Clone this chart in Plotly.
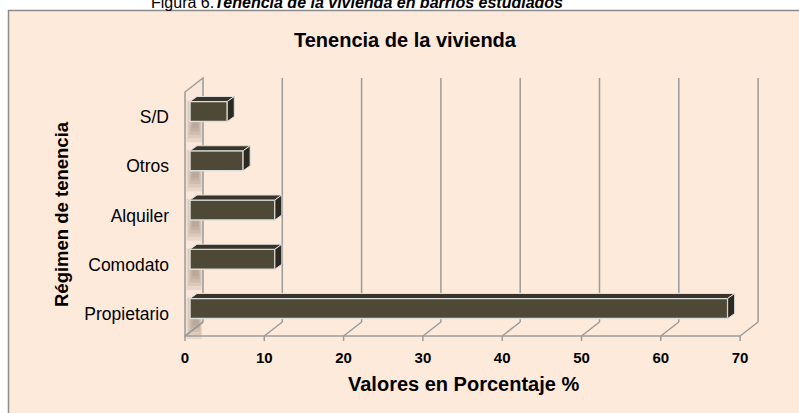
import plotly.graph_objects as go

# ---------------- data ----------------
categories = ["Propietario", "Comodato", "Alquiler", "Otros", "S/D"]
values = [67.8, 10.7, 10.7, 6.7, 4.7]
x_ticks = [0, 10, 20, 30, 40, 50, 60, 70]

title = "Tenencia de la vivienda"
x_title = "Valores en Porcentaje %"
y_title = "Régimen de tenencia"
caption = "Figura 6.<b><i>Tenencia de la vivienda en barrios estudiados</i></b>"

# ---------------- layout geometry (pixels) ----------------
W, H = 799, 413
L, R, T, B = 173, 766, 72, 344
X0PX, XPX = 185.0, 7.93      # pixel of value 0 on front plane, px per unit
Y0PX, YPX = 314.0, 49.25     # pixel of first category, px per category

xr = [(L - X0PX) / XPX, (R - X0PX) / XPX]
yr = [(Y0PX - B) / YPX, (Y0PX - T) / YPX]


def ux(px):
    return px / XPX


def uy(px):
    return px / YPX


def pxp(px):
    return (px - L) / (R - L)


def pyp(py):
    return (B - py) / (B - T)


DX, DY = ux(18), uy(14)          # depth of the 3D box
FLOOR = (Y0PX - 336) / YPX
TOPF = (Y0PX - 92) / YPX
TOPB = TOPF + DY
BAR_BASE = ux(5)
BAR_W = uy(20)
BAR_SHIFT = uy(5.5)
BDX, BDY = ux(7), uy(5)          # depth of each bar

GRID = "rgb(155,155,155)"
PEACH = "rgb(253,234,219)"
BAR_FACE = "rgb(78,72,54)"
BAR_TOP = "rgb(56,52,41)"
BAR_SIDE = "rgb(44,41,32)"
BAR_EDGE = "rgb(222,222,218)"

ypos = list(range(len(categories)))

fig = go.Figure()
fig.add_trace(go.Bar(
    x=values, y=ypos, base=BAR_BASE, orientation="h",
    width=BAR_W, offset=-BAR_W / 2 + BAR_SHIFT,
    marker=dict(color=BAR_FACE, line=dict(color=BAR_EDGE, width=1.5)),
    hoverinfo="skip",
))

shapes = []
# peach frame
shapes.append(dict(type="rect", xref="paper", yref="paper", layer="below",
                   x0=pxp(8.5), x1=pxp(830), y0=pyp(10.5), y1=pyp(440),
                   fillcolor=PEACH, line=dict(color="rgb(140,140,140)", width=1.5)))


def poly(pts):
    return "M " + " L ".join(f"{a},{b}" for a, b in pts) + " Z"


# side wall
shapes.append(dict(type="path", xref="x", yref="y", layer="below",
                   path=poly([(0, FLOOR), (0, TOPF), (DX, TOPB), (DX, FLOOR + DY)]),
                   fillcolor="rgb(251,231,217)", line=dict(color=GRID, width=1.5)))
# soft shadows on the wall behind each bar
for k in ypos:
    yb = k - BAR_W / 2 + BAR_SHIFT
    yt = yb + BAR_W
    layers = [(1.5, 0.42, 0.02), (3.0, 0.34, 0.0), (4.5, 0.27, -0.03),
              (6.0, 0.2, -0.06), (7.5, 0.14, -0.09)]
    for inset, below, above in layers:
        shapes.append(dict(type="rect", xref="x", yref="y", layer="below",
                           x0=ux(inset), x1=DX - ux(inset * 0.6),
                           y0=yb - below, y1=yt + above,
                           fillcolor="rgba(125,105,95,0.13)", line=dict(width=0)))
# back vertical gridlines
for v in x_ticks[1:]:
    shapes.append(dict(type="line", xref="x", yref="y", layer="below",
                       x0=v + DX, x1=v + DX, y0=FLOOR + DY, y1=TOPB,
                       line=dict(color=GRID, width=1.5)))
# floor diagonals and front ticks
for v in x_ticks:
    shapes.append(dict(type="line", xref="x", yref="y", layer="below",
                       x0=v, x1=v + DX, y0=FLOOR, y1=FLOOR + DY,
                       line=dict(color=GRID, width=1.5)))
    shapes.append(dict(type="line", xref="x", yref="y", layer="below",
                       x0=v, x1=v, y0=FLOOR, y1=FLOOR - uy(5),
                       line=dict(color=GRID, width=1.5)))
shapes.append(dict(type="line", xref="x", yref="y", layer="below",
                   x0=x_ticks[0], x1=x_ticks[-1], y0=FLOOR, y1=FLOOR,
                   line=dict(color=GRID, width=1.5)))

# 3D faces of the bars
for k, v in zip(ypos, values):
    yb = k - BAR_W / 2 + BAR_SHIFT
    yt = yb + BAR_W
    x0 = BAR_BASE
    x1 = BAR_BASE + v
    shapes.append(dict(type="path", xref="x", yref="y", layer="above",
                       path=poly([(x0, yt), (x1, yt), (x1 + BDX, yt + BDY), (x0 + BDX, yt + BDY)]),
                       fillcolor=BAR_TOP, line=dict(color=BAR_EDGE, width=1)))
    shapes.append(dict(type="path", xref="x", yref="y", layer="above",
                       path=poly([(x1, yb), (x1, yt), (x1 + BDX, yt + BDY), (x1 + BDX, yb + BDY)]),
                       fillcolor=BAR_SIDE, line=dict(color=BAR_EDGE, width=1)))

FONT = "Liberation Sans, Arial, sans-serif"
annotations = [
    dict(text=caption, xref="paper", yref="paper", x=pxp(357), y=pyp(2),
         xanchor="center", yanchor="middle", showarrow=False,
         font=dict(family=FONT, size=16, color="black")),
    dict(text="<b>" + title + "</b>", xref="paper", yref="paper", x=pxp(405), y=pyp(40),
         xanchor="center", yanchor="middle", showarrow=False,
         font=dict(family=FONT, size=20, color="black")),
    dict(text="<b>" + x_title + "</b>", xref="paper", yref="paper", x=pxp(463), y=pyp(384),
         xanchor="center", yanchor="middle", showarrow=False,
         font=dict(family=FONT, size=20, color="black")),
    dict(text="<b>" + y_title + "</b>", xref="paper", yref="paper", x=pxp(62), y=pyp(214),
         xanchor="center", yanchor="middle", showarrow=False, textangle=-90,
         font=dict(family=FONT, size=18.5, color="black")),
]

fig.update_layout(
    width=W, height=H,
    margin=dict(l=L, r=W - R, t=T, b=H - B, pad=0),
    paper_bgcolor="white", plot_bgcolor="rgba(0,0,0,0)",
    showlegend=False,
    shapes=shapes, annotations=annotations,
    xaxis=dict(range=xr, tickvals=x_ticks, ticktext=[str(t) for t in x_ticks],
               showgrid=False, zeroline=False, showline=False, ticks="",
               tickfont=dict(family=FONT, size=15, color="black", weight="bold"),
               ticklabelstandoff=3),
    yaxis=dict(range=yr, tickvals=ypos, ticktext=categories,
               showgrid=False, zeroline=False, showline=False, ticks="",
               tickfont=dict(family=FONT, size=17.5, color="black"),
               ticklabelstandoff=3),
)

fig.write_html("out.html",
               config={"displayModeBar": False},
               post_script="document.body.style.margin='0';document.body.style.overflow='hidden';")
